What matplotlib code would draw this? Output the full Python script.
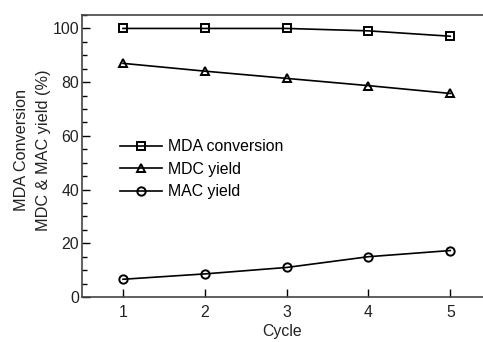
import matplotlib
matplotlib.use("Agg")
import matplotlib.pyplot as plt
from matplotlib.ticker import MultipleLocator

plt.rcParams["font.family"] = ["Liberation Sans", "DejaVu Sans"]
plt.rcParams["font.size"] = 11.4

cycles = [1, 2, 3, 4, 5]
mda_conversion = [100.0, 100.0, 100.0, 99.1, 97.1]
mdc_yield = [87.0, 84.1, 81.4, 78.7, 75.8]
mac_yield = [6.6, 8.6, 11.0, 15.0, 17.3]

fig = plt.figure(figsize=(4.83, 3.42), dpi=100)
ax = fig.add_axes([0.170, 0.1316, 0.830, 0.8245])

style = dict(color="black", lw=1.2, markersize=6, markerfacecolor="none",
             markeredgewidth=1.4, markeredgecolor="black")
ax.plot(cycles, mda_conversion, marker="s", label="MDA conversion", **style)
ax.plot(cycles, mdc_yield, marker="^", label="MDC yield", **style)
ax.plot(cycles, mac_yield, marker="o", label="MAC yield", **style)

ax.set_xlim(0.5, 5.4)
ax.set_ylim(0, 105)
ax.set_xticks(cycles)
ax.yaxis.set_major_locator(MultipleLocator(20))
ax.yaxis.set_minor_locator(MultipleLocator(5))
ax.tick_params(axis="both", direction="in", length=6, width=1, colors="black",
               labelcolor="#222222")
ax.tick_params(axis="x", pad=6, top=False)
ax.tick_params(axis="y", pad=2)
ax.tick_params(axis="y", which="minor", direction="in", length=3.5, width=1)

for side in ["left", "bottom", "top"]:
    ax.spines[side].set_color("#444444")
    ax.spines[side].set_linewidth(1.2)
ax.spines["right"].set_visible(False)

ax.set_xlabel("Cycle", color="#222222", labelpad=3)
ax.set_ylabel("MDA Conversion\nMDC & MAC yield (%)", color="#222222",
              labelpad=1, linespacing=1.6, fontsize=11.7, y=0.52)

ax.legend(loc="upper left", bbox_to_anchor=(0.075, 0.588), frameon=False,
          borderpad=0, handlelength=2.65, handletextpad=0.4, labelspacing=0.48)

fig.savefig("out.png", dpi=100)
